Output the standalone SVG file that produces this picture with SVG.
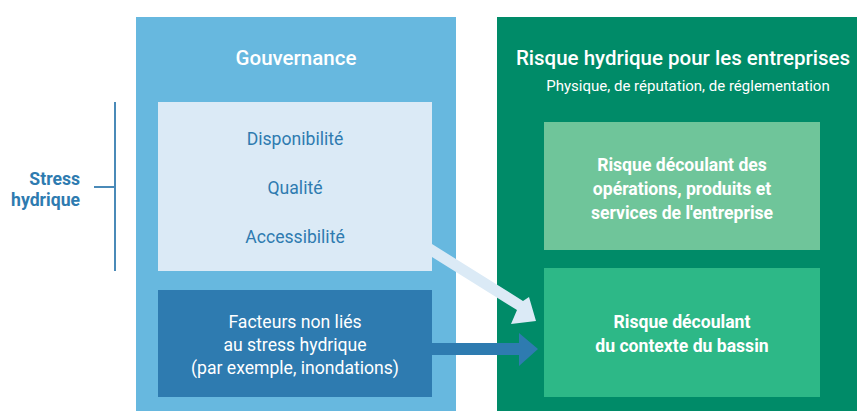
<svg xmlns="http://www.w3.org/2000/svg" width="857" height="411" viewBox="0 0 857 411">
<style>
text{font-family:Roboto,"Liberation Sans",sans-serif;text-anchor:middle}
.w{fill:#fff}
.b{fill:#2e7bb0}
.t{font-size:20.5px;font-weight:500}
.s{font-size:15px}
.n{font-size:17.6px}
.bd{font-size:17.6px;font-weight:700}
</style>
<rect width="857" height="411" fill="#fff"/>
<g id="gouvernance">
<rect x="136" y="17" width="320" height="394" fill="#67b8df"/>
<text class="w t" x="296" y="65">Gouvernance</text>
</g>
<g id="stress">
<rect x="158" y="102" width="274" height="169" fill="#dbeaf6"/>
<text class="b n" x="295" y="145">Disponibilité</text>
<text class="b n" x="295" y="194">Qualité</text>
<text class="b n" x="295" y="243">Accessibilité</text>
</g>
<g id="facteurs">
<rect x="158" y="290" width="274" height="107" fill="#2e7bb0"/>
<text class="w n" x="295" y="328">Facteurs non liés</text>
<text class="w n" x="295" y="351">au stress hydrique</text>
<text class="w n" x="295" y="374">(par exemple, inondations)</text>
</g>
<g id="label-stress">
<text class="b bd" x="80" y="185" style="text-anchor:end">Stress</text>
<text class="b bd" x="80" y="206" style="text-anchor:end">hydrique</text>
</g>
<g id="risque">
<rect x="497" y="17" width="360" height="394" fill="#008b68"/>
<text class="w t" x="683" y="65">Risque hydrique pour les entreprises</text>
<text class="w s" x="688" y="91">Physique, de réputation, de réglementation</text>
</g>
<g id="operations">
<rect x="544" y="122" width="276" height="128" fill="#6fc59a"/>
<text class="w bd" x="682" y="171">Risque découlant des</text>
<text class="w bd" x="682" y="195">opérations, produits et</text>
<text class="w bd" x="682" y="219">services de l'entreprise</text>
</g>
<g id="bassin">
<rect x="544" y="268" width="276" height="129" fill="#2db887"/>
<text class="w bd" x="682" y="328">Risque découlant</text>
<text class="w bd" x="682" y="352">du contexte du bassin</text>
</g>
<g id="connectors">
<path d="M115 102V271M94 187H115" stroke="#4a8ab8" stroke-width="2" fill="none"/>
<polygon points="432,244 432,257 517,310 511,324 536,321 529,297 523,301" fill="#dbeaf6"/>
<polygon points="432,343 519,343 519,333 538,349 519,366 519,355 432,355" fill="#2e7bb0"/>
</g>
</svg>
